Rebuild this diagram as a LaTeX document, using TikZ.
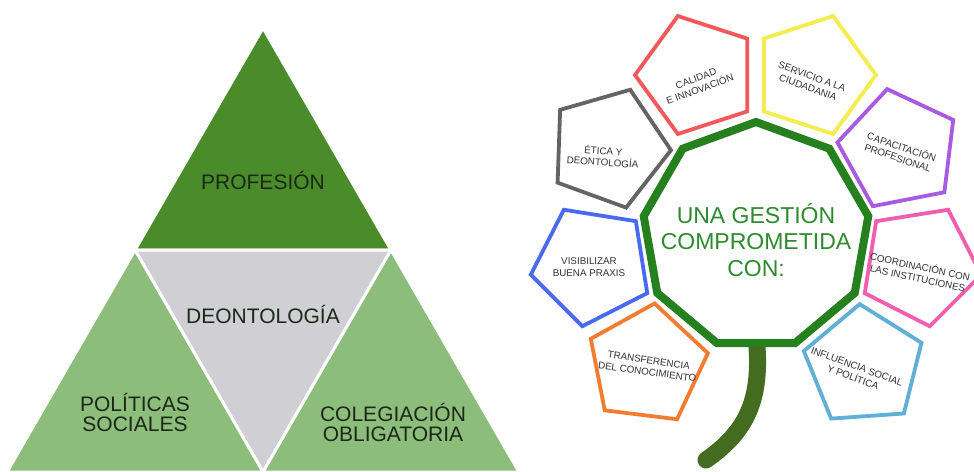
\documentclass[tikz,border=0pt]{standalone}
\usepackage{fontspec}
\setmainfont{Liberation Sans}
\usepackage{xcolor}
\usepackage{tikz}
\usetikzlibrary{shapes.geometric}

\definecolor{darkleaf}{RGB}{74,140,42}
\definecolor{lightleaf}{RGB}{140,189,122}
\definecolor{palegrey}{RGB}{208,208,212}
\definecolor{labelink}{RGB}{28,40,24}
\definecolor{ringgreen}{RGB}{38,128,30}
\definecolor{ringtext}{RGB}{46,138,46}
\definecolor{stemgreen}{RGB}{68,108,32}
\definecolor{petalink}{RGB}{50,50,50}
\definecolor{petalred}{RGB}{240,88,90}
\definecolor{petalyellow}{RGB}{245,236,80}
\definecolor{petalpurple}{RGB}{168,90,225}
\definecolor{petalgrey}{RGB}{100,100,100}
\definecolor{petalblue}{RGB}{72,105,240}
\definecolor{petalorange}{RGB}{242,125,50}
\definecolor{petalpink}{RGB}{240,95,175}
\definecolor{petalsky}{RGB}{95,175,215}

\begin{document}
\begin{tikzpicture}[x=1pt,y=-1pt]

    \tikzstyle{piece}=[draw=white,line width=3pt,line join=round]
    \tikzstyle{piece text}=[text=labelink,align=center,font=\fontsize{21}{20}\selectfont]
    \tikzstyle{ring}=[regular polygon,regular polygon sides=9,minimum size=228pt,inner sep=0pt,line width=8pt,draw=ringgreen,fill=white]
    \tikzstyle{ring text}=[text=ringtext,align=center,font=\fontsize{23}{26.5}\selectfont]
    \tikzstyle{stem}=[line width=17pt,color=stemgreen,line cap=round]
    \tikzstyle{petal}=[regular polygon,regular polygon sides=5,minimum size=124pt,inner sep=0pt,line width=3.8pt,fill=white]
    \tikzstyle{petal text}=[text=petalink,align=center,inner sep=0pt,font=\fontsize{9.8}{11.5}\selectfont]

    \useasboundingbox (0,0) rectangle (974,471);

    % Corners of the big triangle
    \coordinate (A) at (263,28);
    \coordinate (L) at (135,250);
    \coordinate (R) at (391,250);
    \coordinate (BL) at (7,472);
    \coordinate (BM) at (263,472);
    \coordinate (BR) at (519,472);

    % Draw the four triangles
    \filldraw[style=piece,fill=darkleaf] (A) -- (L) -- (R) -- cycle;
    \filldraw[style=piece,fill=palegrey] (L) -- (R) -- (BM) -- cycle;
    \filldraw[style=piece,fill=lightleaf] (L) -- (BL) -- (BM) -- cycle;
    \filldraw[style=piece,fill=lightleaf] (R) -- (BM) -- (BR) -- cycle;

    \node[style=piece text] (profesion) at (263,180) {PROFESIÓN};
    \node[style=piece text] (deontologia) at (263,314) {DEONTOLOGÍA};
    \node[style=piece text] (politicas) at (135,412) {POLÍTICAS\\SOCIALES};
    \node[style=piece text] (colegiacion) at (393,422) {COLEGIACIÓN\\OBLIGATORIA};

    % Draw the stem, then the flower on top of it
    \coordinate (stemtop) at (756,336);
    \coordinate (stemend) at (706,460);
    \draw[style=stem] (stemtop) .. controls (763,400) and (746,432) .. (stemend);

    \node[style=ring] (gestion) at (756,236) {};
    \node[style=ring text] (gestiontext) at (756,240) {UNA GESTIÓN\\COMPROMETIDA\\CON:};

    % Petals
    \node[style=petal,draw=petalred,shape border rotate=90] (calidad) at (697,75) {};
    \node[style=petal,draw=petalyellow,shape border rotate=-90] (servicio) at (814,75) {};
    \node[style=petal,draw=petalpurple,shape border rotate=-61] (capacitacion) at (899,150) {};
    \node[style=petal,draw=petalgrey,shape border rotate=-92] (etica) at (609,148) {};
    \node[style=petal,draw=petalblue,shape border rotate=99] (visibilizar) at (592,265) {};
    \node[style=petal,draw=petalorange,shape border rotate=-7] (transferencia) at (647,365) {};
    \node[style=petal,draw=petalpink,shape border rotate=-99] (coordinacion) at (920,265) {};
    \node[style=petal,draw=petalsky,shape border rotate=4] (influencia) at (864,366) {};

    % Petal labels
    \node[style=petal text,rotate=20] (calidadtext) at (698,84) {CALIDAD\\E INNOVACIÓN};
    \node[style=petal text,rotate=-20] (serviciotext) at (810,82) {SERVICIO A LA\\CIUDADANIA};
    \node[style=petal text,rotate=-19] (capacitaciontext) at (900,152) {CAPACITACIÓN\\PROFESIONAL};
    \node[style=petal text,rotate=-4] (eticatext) at (603,156) {ÉTICA Y\\DEONTOLOGÍA};
    \node[style=petal text] (visibilizartext) at (589,267) {VISIBILIZAR\\BUENA PRAXIS};
    \node[style=petal text,rotate=-8] (transferenciatext) at (648,366) {TRANSFERENCIA\\DEL CONOCIMIENTO};
    \node[style=petal text,rotate=-12] (coordinaciontext) at (919,272) {COORDINACIÓN CON\\LAS INSTITUCIONES};
    \node[style=petal text,rotate=-20] (influenciatext) at (855,372) {INFLUENCIA SOCIAL\\Y POLÍTICA};

\end{tikzpicture}
\end{document}
